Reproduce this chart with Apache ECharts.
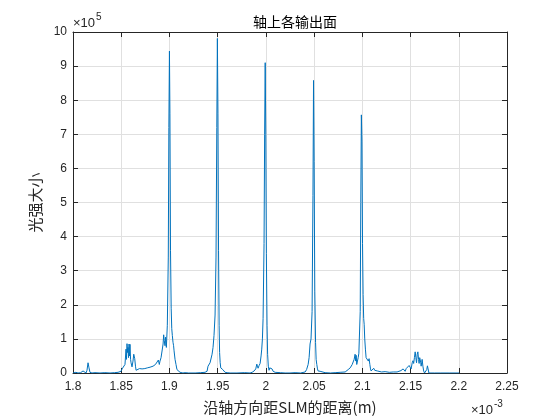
<!DOCTYPE html>
<html>
<head>
<meta charset="utf-8">
<script src="https://cdn.jsdelivr.net/npm/echarts@6/dist/echarts.min.js"></script>
<style>html,body{margin:0;padding:0;background:#fff;}#c{width:560px;height:420px;}</style>
</head>
<body>
<div id="c"></div>
<script>
// distance along axis (×10^-3 m)
const xs = [
1.8000,1.8030,1.8052,1.8080,1.8104,1.8114,1.8135,1.8145,1.8156,1.8166,1.8176,1.8197,1.8228,1.8280,1.8330,1.8384,1.8430,1.8467,
1.8498,1.8509,1.8519,1.8529,1.8539,1.8550,1.8555,1.8560,1.8566,1.8571,1.8576,1.8581,1.8586,1.8591,1.8597,1.8602,1.8612,1.8622,
1.8630,1.8640,1.8648,1.8654,1.8664,1.8674,1.8690,1.8705,1.8716,1.8730,1.8745,1.8757,1.8770,1.8785,1.8799,1.8815,1.8830,1.8840,
1.8855,1.8871,1.8885,1.8895,1.8902,1.8913,1.8923,1.8934,1.8940,1.8946,1.8954,1.8960,1.8968,1.8978,1.8988,1.8994,1.9000,1.9005,
1.9011,1.9018,1.9024,1.9030,1.9037,1.9043,1.9048,1.9058,1.9068,1.9078,1.9089,1.9110,1.9140,1.9162,1.9200,1.9266,1.9320,1.9369,
1.9390,1.9400,1.9410,1.9421,1.9431,1.9442,1.9452,1.9462,1.9473,1.9483,1.9491,1.9497,1.9503,1.9509,1.9515,1.9520,1.9526,1.9532,
1.9540,1.9546,1.9553,1.9561,1.9570,1.9577,1.9598,1.9629,1.9700,1.9780,1.9836,1.9857,1.9878,1.9895,1.9906,1.9912,1.9919,1.9930,
1.9940,1.9950,1.9957,1.9964,1.9971,1.9981,1.9987,1.9993,1.9999,2.0005,2.0012,2.0018,2.0025,2.0033,2.0040,2.0047,2.0054,2.0064,
2.0075,2.0085,2.0096,2.0106,2.0150,2.0199,2.0250,2.0303,2.0360,2.0407,2.0422,2.0438,2.0448,2.0458,2.0468,2.0479,2.0488,2.0494,
2.0500,2.0507,2.0515,2.0521,2.0528,2.0535,2.0541,2.0552,2.0562,2.0580,2.0614,2.0670,2.0718,2.0770,2.0822,2.0840,2.0853,2.0864,
2.0874,2.0885,2.0895,2.0905,2.0915,2.0925,2.0931,2.0936,2.0942,2.0950,2.0957,2.0964,2.0970,2.0978,2.0984,2.0990,2.0996,2.1002,
2.1008,2.1014,2.1019,2.1025,2.1032,2.1039,2.1046,2.1053,2.1062,2.1070,2.1078,2.1085,2.1091,2.1100,2.1108,2.1118,2.1128,2.1143,
2.1155,2.1170,2.1200,2.1236,2.1280,2.1320,2.1340,2.1360,2.1380,2.1400,2.1415,2.1423,2.1434,2.1444,2.1455,2.1465,2.1475,2.1485,
2.1496,2.1506,2.1517,2.1525,2.1532,2.1540,2.1548,2.1555,2.1562,2.1569,2.1576,2.1583,2.1589,2.1595,2.1600,2.1605,2.1610,2.1615,
2.1620,2.1628,2.1636,2.1645,2.1657,2.1668,2.1675,2.1682,2.1690,2.1703,2.1750,2.1807,2.1900,2.2004
];
// light intensity (×10^5)
const ys = [
0,0.02,0,0.01,0.06,0.02,0.0,0.08,0.30,0.15,0.02,0.0,0.01,0.0,0.01,0.0,0.01,0.02,
0.05,0.12,0.15,0.10,0.25,0.70,0.40,0.86,0.60,0.75,0.45,0.85,0.50,0.84,0.40,0.30,0.18,0.35,
0.55,0.42,0.20,0.08,0.12,0.10,0.13,0.10,0.12,0.09,0.13,0.11,0.15,0.13,0.17,0.15,0.20,0.18,
0.25,0.22,0.38,0.25,0.35,0.45,0.40,0.85,1.12,0.95,0.80,1.05,0.75,1.40,3.40,7.20,9.44,7.60,
3.60,1.90,1.30,1.10,0.90,0.80,0.65,0.40,0.25,0.10,0.05,0.02,0.0,0.01,0.0,0.0,0.01,0.02,
0.05,0.20,0.15,0.30,0.35,0.55,0.75,1.10,1.70,3.40,7.20,9.81,7.60,3.60,1.40,0.60,0.30,0.15,
0.10,0.18,0.10,0.14,0.05,0.02,0.01,0.0,0.0,0.01,0.0,0.02,0.06,0.12,0.26,0.20,0.14,0.22,
0.28,0.50,0.70,1.00,1.60,3.80,7.00,9.10,7.00,3.50,1.40,0.55,0.20,0.08,0.15,0.10,0.16,0.12,
0.05,0.08,0.02,0.0,0.01,0.0,0.0,0.01,0.0,0.03,0.10,0.25,0.45,0.85,1.00,1.80,5.20,8.58,
6.20,2.40,0.90,0.40,0.25,0.12,0.06,0.10,0.05,0.02,0.01,0.0,0.01,0.02,0.03,0.05,0.10,0.08,
0.15,0.18,0.25,0.30,0.40,0.55,0.35,0.52,0.25,0.30,0.45,0.58,0.60,1.80,5.00,7.57,6.80,3.80,
2.30,1.60,1.43,1.00,0.70,0.45,0.50,0.48,0.35,0.42,0.25,0.12,0.06,0.04,0.10,0.14,0.08,0.10,
0.06,0.05,0.03,0.04,0.02,0.03,0.05,0.03,0.04,0.07,0.05,0.12,0.08,0.05,0.13,0.18,0.15,0.22,
0.23,0.12,0.30,0.36,0.28,0.45,0.62,0.45,0.30,0.55,0.62,0.40,0.28,0.45,0.50,0.32,0.20,0.30,
0.40,0.20,0.06,0.0,0.0,0.10,0.21,0.12,0.0,0.0,0.0,0.0,0.0,0.0
];
const xTickLabels = ['1.8','1.85','1.9','1.95','2','2.05','2.1','2.15','2.2','2.25'];
const yTickLabels = ['0','1','2','3','4','5','6','7','8','9','10'];
const titleText = '轴上各输出面';
const xName = '沿轴方向距SLM的距离(m)';
const yName = '光强大小';

const chart = echarts.init(document.getElementById('c'), null, {renderer: 'canvas'});
const axisCol = '#262626';
const gridCol = '#e0e0e0';
const fontLat = 'Liberation Sans, Arial, sans-serif';
const fontCJK = '"Noto Sans CJK SC", sans-serif';
const data = xs.map((x, i) => [x, ys[i]]);
const xFmt = v => { const s = parseFloat(v.toFixed(2)).toString(); return xTickLabels.includes(s) ? s : ''; };
const yFmt = v => { const s = String(Math.round(v)); return yTickLabels.includes(s) ? s : ''; };

chart.setOption({
  animation: false,
  backgroundColor: '#fff',
  title: {
    text: titleText, left: 290, top: 10, textAlign: 'center',
    textStyle: {fontFamily: fontCJK, fontSize: 14, fontWeight: 'normal', color: '#000'}
  },
  grid: {left: 73, right: 53, top: 32, bottom: 46, containLabel: false},
  xAxis: [{
    type: 'value', min: 1.8, max: 2.25, interval: 0.05,
    name: xName, nameLocation: 'middle', nameGap: 27,
    nameTextStyle: {fontFamily: fontCJK, fontSize: 15, color: axisCol},
    axisLine: {show: true, onZero: false, lineStyle: {color: axisCol, width: 1}},
    axisTick: {show: true, inside: true, length: 5, lineStyle: {color: axisCol}},
    axisLabel: {formatter: xFmt, fontFamily: fontLat, fontSize: 12, color: axisCol, margin: 8},
    splitLine: {show: true, lineStyle: {color: gridCol, width: 1}}
  }, {
    type: 'value', position: 'top', min: 1.8, max: 2.25, interval: 0.05,
    axisLine: {show: true, onZero: false, lineStyle: {color: axisCol, width: 1}},
    axisTick: {show: true, inside: true, length: 5, lineStyle: {color: axisCol}},
    axisLabel: {show: false}, splitLine: {show: false}
  }],
  yAxis: [{
    type: 'value', min: 0, max: 10, interval: 1,
    name: yName, nameLocation: 'middle', nameGap: 27, nameRotate: 90,
    nameTextStyle: {fontFamily: fontCJK, fontSize: 15, color: axisCol},
    axisLine: {show: true, onZero: false, lineStyle: {color: axisCol, width: 1}},
    axisTick: {show: true, inside: true, length: 5, lineStyle: {color: axisCol}},
    axisLabel: {formatter: yFmt, fontFamily: fontLat, fontSize: 12, color: axisCol, margin: 6},
    splitLine: {show: true, lineStyle: {color: gridCol, width: 1}}
  }, {
    type: 'value', position: 'right', min: 0, max: 10, interval: 1,
    axisLine: {show: true, onZero: false, lineStyle: {color: axisCol, width: 1}},
    axisTick: {show: true, inside: true, length: 5, lineStyle: {color: axisCol}},
    axisLabel: {show: false}, splitLine: {show: false}
  }],
  graphic: [
    {type: 'text', left: 73, top: 17, style: {text: '×10', font: '13px Liberation Sans, Arial, sans-serif', fill: axisCol}},
    {type: 'text', left: 96, top: 12, style: {text: '5', font: '10px Liberation Sans, Arial, sans-serif', fill: axisCol}},
    {type: 'text', left: 471, top: 404, style: {text: '×10', font: '13px Liberation Sans, Arial, sans-serif', fill: axisCol}},
    {type: 'text', left: 494, top: 399, style: {text: '-3', font: '10px Liberation Sans, Arial, sans-serif', fill: axisCol}}
  ],
  series: [{
    type: 'line', xAxisIndex: 0, yAxisIndex: 0, data: data,
    showSymbol: false, symbol: 'none',
    lineStyle: {color: '#0072BD', width: 1}, itemStyle: {color: '#0072BD'}
  }]
});
</script>
</body>
</html>
